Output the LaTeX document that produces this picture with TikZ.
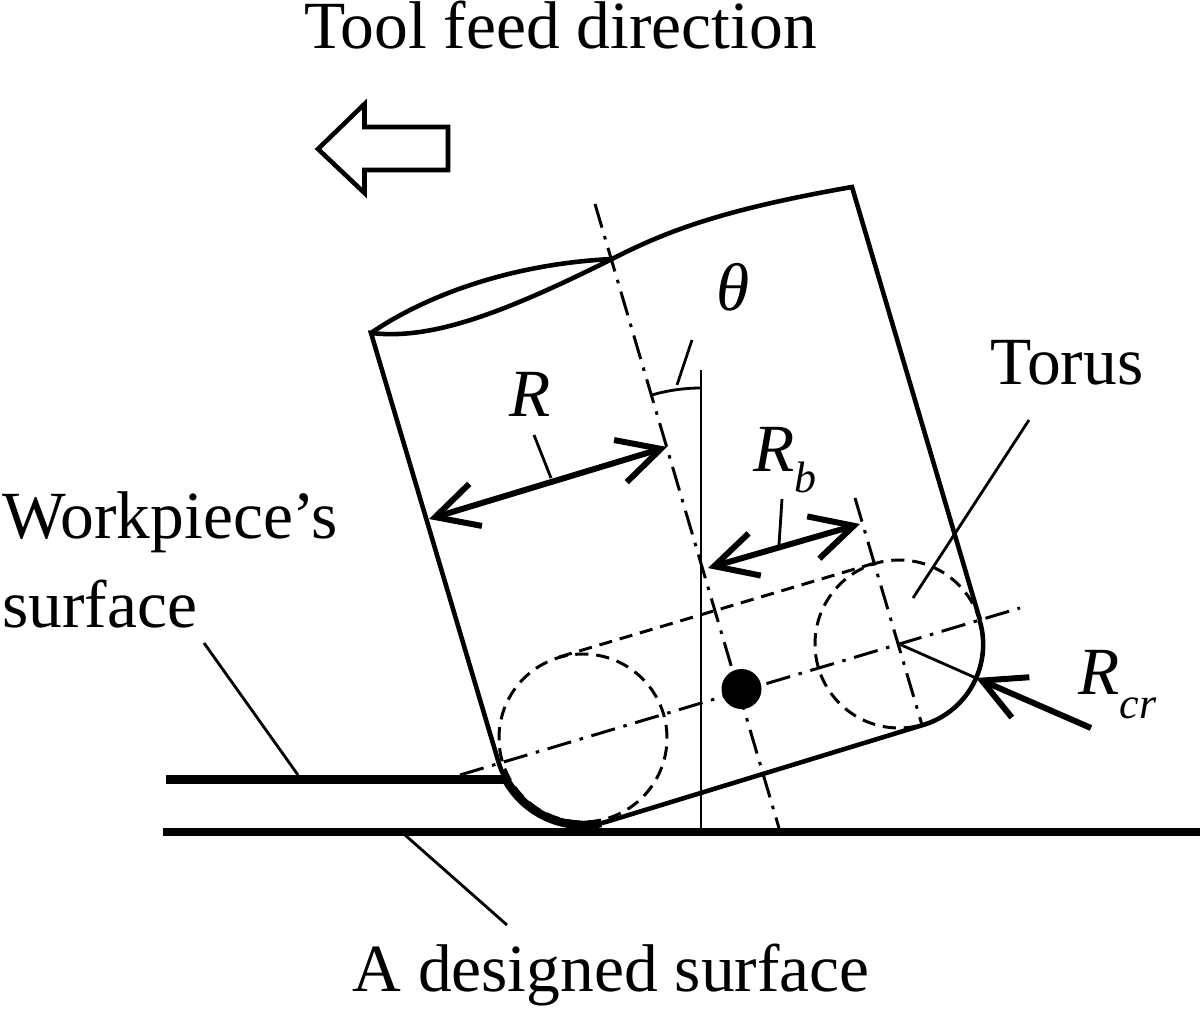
\documentclass[tikz,border=0pt]{standalone}
\usepackage{fontspec}
\setmainfont{Liberation Serif}
\usetikzlibrary{arrows.meta,positioning}
\newcommand{\lblfont}{\fontsize{38.4}{46}\selectfont}
\newcommand{\subfont}{\fontsize{25}{30}\selectfont}
\begin{document}
\begin{tikzpicture}[scale=0.2]
\tikzstyle{every node}+=[inner sep=0pt,font=\lblfont,align=left]
\tikzstyle{outline}=[line width=2.6pt,line join=miter]
\tikzstyle{thin}=[line width=1.6pt]
\tikzstyle{heavy}=[line width=4.8pt]
\tikzstyle{dim}=[line width=3.4pt,{Straight Barb[length=24pt,width=25pt,line width=3.4pt]}-{Straight Barb[length=24pt,width=25pt,line width=3.4pt]}]
\tikzstyle{push}=[line width=3.4pt,-{Straight Barb[length=24pt,width=25pt,line width=3.4pt]}]
\tikzstyle{axis}=[line width=1.7pt,dash pattern=on 14pt off 5pt on 2pt off 5pt]
\tikzstyle{hidden}=[line width=1.7pt,dash pattern=on 7.5pt off 4.5pt]
\useasboundingbox (0,0) rectangle (120,-100.9);
% tool corners
\coordinate (topl) at (37.1,-33.3);
\coordinate (topm) at (61.2,-25.9);
\coordinate (topr) at (85.2,-18.7);
\coordinate (edgel) at (49.85,-76.2);
\coordinate (baser) at (92.3,-72.5);
\coordinate (edger) at (98,-62);
\coordinate (circl) at (58.3,-73.8);
\coordinate (circr) at (89.9,-64.4);
% tool body
\draw [outline] (edger) -- (topr) .. controls (72,-21) and (66.5,-23.2) .. (topm) .. controls (50,-31.5) and (43,-34) .. (topl) -- (edgel) arc (196.5:286.5:8.8) -- (baser) arc (286.5:376.5:8.4);
\draw [outline] (topl) .. controls (42.5,-29.6) and (51,-26.4) .. (topm);
% surfaces
\coordinate (wpl) at (16.6,-77.95);
\coordinate (wpr) at (50.59,-77.95);
\coordinate (dsl) at (16.3,-83.2);
\coordinate (dsr) at (120,-83.2);
\draw [heavy] (wpl) -- (wpr);
\draw [heavy] (dsl) -- (dsr);
\draw [heavy] (wpr) arc (208.9:282:8.8);
% axes
\coordinate (axtop) at (59.5,-20.4);
\coordinate (axbot) at (77.9,-82.8);
\coordinate (clleft) at (46,-77.5);
\coordinate (clright) at (102,-60.8);
\coordinate (prtop) at (85.5,-49.8);
\coordinate (prbot) at (92.2,-72.5);
\draw [axis] (axtop) -- (axbot);
\draw [axis] (clleft) -- (clright);
\draw [axis] (prtop) -- (prbot);
\coordinate (vtop) at (70.1,-37);
\coordinate (vbot) at (70.1,-83);
\draw [thin] (vtop) -- (vbot);
\node [circle,fill=black,minimum size=0.8cm] (hub) at (74.15,-68.9) {};
% torus
\draw [hidden] (circl) circle (8.4);
\draw [hidden] (circr) circle (8.4);
\coordinate (tanl) at (55.9,-65.7);
\coordinate (tanr) at (87.5,-56.3);
\draw [hidden] (tanl) -- (tanr);
% angle
\coordinate (angr) at (70.1,-38.8);
\coordinate (tickt) at (69.2,-34);
\coordinate (tickb) at (67.7,-38.5);
\draw [thin] (angr) arc (90:106.5:17.6);
\draw [thin] (tickt) -- (tickb);
% dimensions
\coordinate (ra) at (42.9,-51.9);
\coordinate (rb) at (66.7,-44.7);
\coordinate (rba) at (70.8,-56.8);
\coordinate (rbb) at (86,-52.4);
\draw [dim] (ra) -- (rb);
\draw [dim] (rba) -- (rbb);
\coordinate (rlt) at (53.4,-43.5);
\coordinate (rlb) at (55.1,-47.8);
\coordinate (rblt) at (78.2,-49.9);
\coordinate (rblb) at (77.9,-54.5);
\draw [thin] (rlt) -- (rlb);
\draw [thin] (rblt) -- (rblb);
\coordinate (crtip) at (97.6,-67.8);
\coordinate (crtail) at (109.1,-72.8);
\draw [thin] (circr) -- (crtip);
\draw [push] (crtail) -- (crtip);
% feed arrow
\coordinate (fa) at (31.8,-14.9);
\coordinate (fb) at (36.45,-10.4);
\coordinate (fc) at (36.45,-12.7);
\coordinate (fd) at (44.8,-12.7);
\coordinate (fe) at (44.8,-17);
\coordinate (ff) at (36.45,-17);
\coordinate (fg) at (36.45,-19.3);
\draw [outline] (fa) -- (fb) -- (fc) -- (fd) -- (fe) -- (ff) -- (fg) -- cycle;
% leaders
\coordinate (tl) at (102.9,-42);
\coordinate (tb) at (91.3,-59.8);
\coordinate (wt) at (20.4,-64.3);
\coordinate (wb) at (29.8,-77.5);
\coordinate (dt) at (40.5,-83.5);
\coordinate (db) at (50.7,-92.5);
\draw [thin] (tl) -- (tb);
\draw [thin] (wt) -- (wb);
\draw [thin] (dt) -- (db);
% labels
\node [anchor=base west] (feedlbl) at (30.4,-4.85) {Tool feed direction};
\node [anchor=base west] (thetalbl) at (71.6,-31) {\textit{θ}};
\node (torlbl) at (106.7,-36.3) {Torus};
\node [anchor=base west] (rlbl) at (50.9,-41.6) {\textit{R}};
\node [anchor=base west] (rblbl) at (75.3,-47.1) {\textit{R}\raisebox{-12.5pt}{\subfont\textit{b}}};
\node [anchor=base west] (crlbl) at (107.8,-69.4) {\textit{R}\raisebox{-14pt}{\subfont\textit{cr}}};
\node [anchor=west] (wplbl) at (0.2,-52.2) {Workpiece’s};
\node [anchor=west] (surflbl) at (0.2,-60.4) {surface};
\node (dslbl) at (61.1,-97.5) {A designed surface};
\end{tikzpicture}
\end{document}
